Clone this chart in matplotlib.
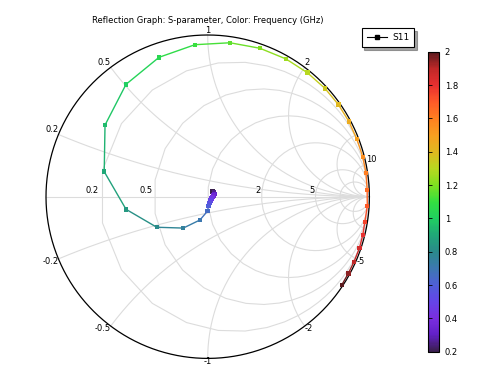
import numpy as np
import matplotlib
matplotlib.use("Agg")
import matplotlib.pyplot as plt
from matplotlib.collections import LineCollection
from matplotlib.colors import LinearSegmentedColormap, Normalize
from matplotlib.lines import Line2D

# ---------------- data ----------------
freq = [0.2, 0.25, 0.3, 0.35, 0.4, 0.45, 0.5, 0.55, 0.6, 0.65,
        0.7, 0.75, 0.8, 0.85, 0.9, 0.95, 1.0, 1.05, 1.1, 1.15,
        1.2, 1.25, 1.3, 1.35, 1.4, 1.45, 1.5, 1.55, 1.6, 1.65,
        1.7, 1.75, 1.8, 1.85, 1.9, 1.95, 2.0]
s11_re = [0.030, 0.039, 0.042, 0.036, 0.030, 0.024, 0.017, 0.011, 0.005, -0.002,
          -0.048, -0.151, -0.315, -0.505, -0.640, -0.635, -0.505, -0.301, -0.079, 0.138,
          0.323, 0.484, 0.616, 0.725, 0.808, 0.874, 0.922, 0.959, 0.979, 0.986,
          0.987, 0.972, 0.959, 0.938, 0.905, 0.870, 0.829]
s11_im = [0.032, 0.026, 0.017, 0.007, -0.002, -0.011, -0.024, -0.039, -0.058, -0.090,
          -0.144, -0.194, -0.189, -0.078, 0.155, 0.443, 0.695, 0.862, 0.940, 0.952,
          0.918, 0.852, 0.767, 0.670, 0.570, 0.464, 0.356, 0.247, 0.145, 0.043,
          -0.058, -0.155, -0.237, -0.319, -0.402, -0.474, -0.546]

grid_values = [0.2, 0.5, 1, 2, 5, 10]
r_labels = ["0.2", "0.5", "2", "5"]
x_labels_pos = ["0.2", "0.5", "1", "2", "10"]
x_labels_neg = ["-0.2", "-0.5", "-1", "-2", "-5"]
cbar_ticks = [0.2, 0.4, 0.6, 0.8, 1.0, 1.2, 1.4, 1.6, 1.8, 2.0]
cbar_ticklabels = ["0.2", "0.4", "0.6", "0.8", "1", "1.2", "1.4", "1.6", "1.8", "2"]

title = "Reflection Graph: S-parameter, Color: Frequency (GHz)"
series_name = "S11"

# ---------------- style ----------------
spectrum = LinearSegmentedColormap.from_list("spectrum", [
    "#3a1f4d", "#6220c8", "#7a2ee0", "#6445e8", "#4f5fd8", "#3c78b0",
    "#2a8a8a", "#20a878", "#20d060", "#34e040", "#80e020", "#b8d820",
    "#e0b820", "#f8a020", "#ff8020", "#ff5a28", "#e83030", "#c02828", "#5a1a1e"])
norm = Normalize(vmin=0.2, vmax=2.0)
FS = 6
GRID = "#dcdcdc"

W, H = 479, 366
fig = plt.figure(figsize=(W / 100, H / 100), dpi=100)

cx, cy, R = 207.7, 196.7, 161.7
lim = 1.03
ax_w = 2 * lim * R / W
ax_h = 2 * lim * R / H
ax = fig.add_axes([cx / W - ax_w / 2, (H - cy) / H - ax_h / 2, ax_w, ax_h])
ax.set_xlim(-lim, lim)
ax.set_ylim(-lim, lim)
ax.axis("off")


def gamma(z):
    return (z - 1) / (z + 1)


# resistance circles
t = np.linspace(-np.pi / 2 + 1e-4, np.pi / 2 - 1e-4, 800)
for r in grid_values:
    g = gamma(r + 1j * np.tan(t) * 60)
    ax.plot(g.real, g.imag, color=GRID, lw=0.8, zorder=1)
# reactance arcs
rr = np.tan(np.linspace(0, np.pi / 2 - 1e-4, 800)) * 20
for x in grid_values:
    for s in (1, -1):
        g = gamma(rr + 1j * s * x)
        ax.plot(g.real, g.imag, color=GRID, lw=0.8, zorder=1)
ax.plot([-1, 1], [0, 0], color=GRID, lw=0.8, zorder=1)
# outer circle
th = np.linspace(0, 2 * np.pi, 800)
ax.plot(np.cos(th), np.sin(th), color="black", lw=0.9, zorder=2)

# resistance labels on real axis
for lab in r_labels:
    g = gamma(float(lab))
    ax.text(g.real - 0.005, 0.012, lab, ha="right", va="bottom", fontsize=FS, zorder=5)


def xlabel(lab):
    x = float(lab)
    g = gamma(1j * x)
    if abs(abs(x) - 1) < 1e-9:
        ha = "center"
    elif abs(x) < 1:
        ha = "right"
    else:
        ha = "left"
    va = "bottom" if x > 0 else "top"
    dy = 0.002 if x > 0 else 0.01
    ax.text(g.real, g.imag + dy, lab, ha=ha, va=va, fontsize=FS, zorder=5)


for lab in x_labels_pos + x_labels_neg:
    xlabel(lab)

# data trace
re = np.array(s11_re)
im = np.array(s11_im)
f = np.array(freq)
pts = np.column_stack([re, im]).reshape(-1, 1, 2)
segs = np.concatenate([pts[:-1], pts[1:]], axis=1)
lc = LineCollection(segs, cmap=spectrum, norm=norm, linewidths=1.0, zorder=3)
lc.set_array((f[:-1] + f[1:]) / 2)
ax.add_collection(lc)
ax.scatter(re, im, c=f, cmap=spectrum, norm=norm, marker="s", s=10, linewidths=0, zorder=4)

# title
fig.text(cx / W, 1 - 20.5 / H, title, ha="center", va="center", fontsize=FS)

# legend
h = Line2D([], [], color="black", lw=0.8, marker="s", markersize=2.5)
leg = fig.legend([h], [series_name], loc="upper left",
                 bbox_to_anchor=(361.7 / W, 1 - 28.3 / H), borderaxespad=0,
                 fontsize=FS + 0.5, frameon=True, fancybox=False, shadow=True,
                 edgecolor="black", handlelength=2.2, borderpad=0.55, handletextpad=0.6)
leg.get_frame().set_linewidth(0.8)

# colorbar
cax = fig.add_axes([428.3 / W, (H - 351.7) / H, 11 / W, 300 / H])
sm = plt.cm.ScalarMappable(norm=norm, cmap=spectrum)
cb = fig.colorbar(sm, cax=cax)
cb.set_ticks(cbar_ticks)
cb.set_ticklabels(cbar_ticklabels)
cb.outline.set_linewidth(0.8)
cax.tick_params(axis="y", direction="in", length=3, width=0.6, left=True, right=False,
                labelleft=False, labelright=True, labelsize=FS, pad=4)

fig.savefig("out.png", dpi=100)
